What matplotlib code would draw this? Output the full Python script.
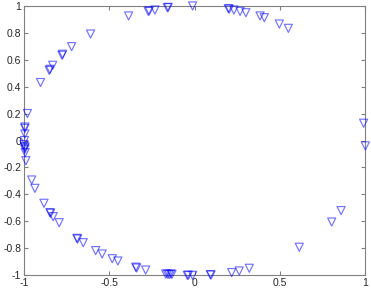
import matplotlib
matplotlib.use('Agg')
import matplotlib.pyplot as plt

# points (x, y)
x_vals = [-0.98, -0.995, -0.995, -0.995, -0.997, -1.0, -0.995, -0.995, -0.995, -0.993,
          -0.903, -0.848, -0.852, -0.832, -0.774, -0.777, -0.721, -0.61, -0.387,
          -0.266, -0.272, -0.233, -0.155, -0.16, -0.012,
          0.197, 0.203, 0.23, 0.266, 0.30, 0.383, 0.408, 0.496, 0.549,
          0.99, 1.0,
          -0.989, -0.955, -0.936, -0.883, -0.844, -0.848, -0.829, -0.794,
          -0.686, -0.69, -0.653, -0.58, -0.542, -0.483, -0.45, -0.34, -0.345, -0.287,
          -0.17, -0.16, -0.15, -0.14, -0.133, -0.043, -0.037, -0.012,
          0.096, 0.092, 0.217, 0.261, 0.32, 0.613, 0.803, 0.858]
y_vals = [0.20, 0.10, 0.09, 0.048, 0.0, -0.03, -0.046, -0.055, -0.065, -0.09,
          0.43, 0.528, 0.52, 0.558, 0.64, 0.632, 0.696, 0.79, 0.924,
          0.961, 0.958, 0.968, 0.988, 0.985, 0.998,
          0.978, 0.975, 0.968, 0.958, 0.948, 0.924, 0.911, 0.864, 0.832,
          0.128, -0.04,
          -0.15, -0.293, -0.355, -0.466, -0.54, -0.535, -0.565, -0.61,
          -0.731, -0.726, -0.758, -0.817, -0.842, -0.877, -0.894, -0.946, -0.94, -0.961,
          -0.99, -0.992, -0.995, -0.99, -0.993, -1.0, -1.0, -1.0,
          -0.998, -0.995, -0.98, -0.968, -0.948, -0.792, -0.605, -0.52]

x_ticks = [-1, -0.5, 0, 0.5, 1]
x_ticklabels = ['-1', '-0.5', '0', '0.5', '1']
y_ticks = [-1, -0.8, -0.6, -0.4, -0.2, 0, 0.2, 0.4, 0.6, 0.8, 1]
y_ticklabels = ['-1', '-0.8', '-0.6', '-0.4', '-0.2', '0', '0.2', '0.4', '0.6', '0.8', '1']

plt.rcParams['font.family'] = ['Liberation Sans', 'DejaVu Sans']

fig = plt.figure(figsize=(3.71, 2.93), dpi=100)
ax = fig.add_axes([0.0647, 0.0604, 0.92, 0.9201])

ax.scatter(x_vals, y_vals, marker='v', s=34, facecolors='none',
           edgecolors=(0, 0, 1, 0.55), linewidths=0.85, clip_on=False, zorder=3)

ax.set_xlim(-1, 1)
ax.set_ylim(-1, 1)
ax.set_xticks(x_ticks)
ax.set_xticklabels(x_ticklabels)
ax.set_yticks(y_ticks)
ax.set_yticklabels(y_ticklabels)

axis_gray = '#808080'
for sp in ax.spines.values():
    sp.set_color(axis_gray)
    sp.set_linewidth(0.8)
ax.tick_params(direction='in', length=3, width=0.8, color=axis_gray,
               labelsize=7.5, labelcolor='#262626', top=True, right=True, pad=2)

fig.savefig('out.png', dpi=100)
